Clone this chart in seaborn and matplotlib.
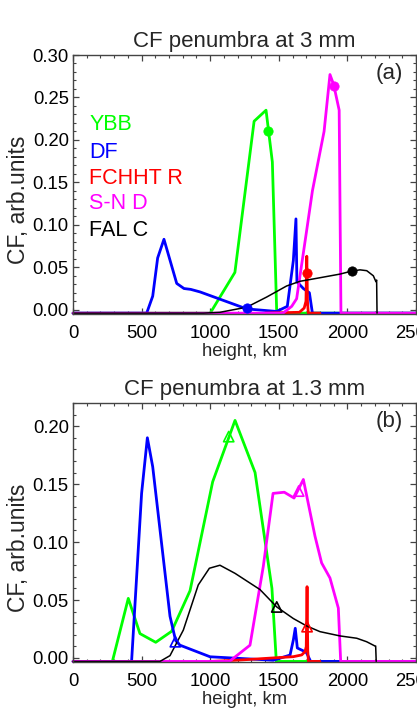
import matplotlib
matplotlib.use("Agg")
import matplotlib.pyplot as plt
import seaborn as sns
import pandas as pd
from matplotlib.ticker import MultipleLocator

# ---------------- data ----------------
series_names = ["YBB", "DF", "FCHHT R", "S-N D", "FAL C"]
series_colors = ["#00ff00", "#0000ff", "#ff0000", "#ff00ff", "#000000"]

# panel (a): CF at 3 mm
ybb_a_x = [0, 1000, 1180, 1320, 1407, 1453, 1485, 2500]
ybb_a_y = [-0.004, -0.004, 0.044, 0.222, 0.235, 0.174, -0.004, -0.004]
df_a_x = [0, 537, 581, 617, 663, 756, 809, 858, 926, 1266, 1484, 1562, 1606, 1625, 1632, 1679, 1723, 1745, 2500]
df_a_y = [-0.004, -0.004, 0.016, 0.061, 0.083, 0.031, 0.025, 0.024, 0.021, 0.001, -0.002, 0.004, 0.058, 0.107, 0.033, 0.025, 0.020, -0.004, -0.004]
fchht_a_x = [1400, 1650, 1685, 1698, 1704, 1709, 1715, 1800]
fchht_a_y = [-0.004, -0.003, 0.002, 0.010, 0.063, 0.010, -0.004, -0.004]
snd_a_x = [0, 1530, 1594, 1630, 1700, 1745, 1830, 1873, 1900, 1940, 1953, 2500]
snd_a_y = [-0.004, -0.004, 0.004, 0.013, 0.090, 0.140, 0.210, 0.277, 0.265, 0.235, -0.004, -0.004]
falc_a_x = [0, 950, 1071, 1266, 1412, 1557, 1654, 1776, 1946, 2031, 2092, 2141, 2189, 2208, 2213, 2216]
falc_a_y = [-0.004, -0.004, -0.003, 0.003, 0.015, 0.028, 0.0335, 0.037, 0.042, 0.0455, 0.047, 0.046, 0.040, 0.033, 0.035, -0.004]
mark_a_x = [1424, 1266, 1706, 1900, 2031]
mark_a_y = [0.2105, 0.0017, 0.043, 0.264, 0.0457]

# panel (b): CF at 1.3 mm
ybb_b_x = [0, 287, 403, 488, 603, 719, 853, 1018, 1181, 1327, 1450, 1482, 2500]
ybb_b_y = [-0.003, -0.003, 0.0514, 0.021, 0.0135, 0.023, 0.058, 0.152, 0.205, 0.160, 0.060, -0.003, -0.003]
df_b_x = [0, 427, 500, 542, 581, 707, 748, 780, 999, 1460, 1582, 1606, 1620, 1635, 1691, 1700, 1732, 2500]
df_b_y = [-0.003, -0.003, 0.142, 0.190, 0.165, 0.036, 0.015, 0.011, 0.001, -0.002, 0.0025, 0.0155, 0.0256, 0.0086, 0.0054, 0.005, -0.003, -0.003]
fchht_b_x = [1000, 1217, 1458, 1606, 1667, 1691, 1700, 1706, 1711, 1716, 1800]
fchht_b_y = [-0.003, -0.0018, 0.000, 0.0011, 0.0026, 0.0054, 0.0097, 0.0615, 0.006, -0.003, -0.003]
snd_b_x = [0, 1140, 1290, 1387, 1458, 1540, 1611, 1679, 1764, 1812, 1873, 1934, 1951, 2500]
snd_b_y = [-0.003, -0.003, 0.011, 0.079, 0.142, 0.143, 0.138, 0.154, 0.105, 0.082, 0.069, 0.043, -0.003, -0.003]
falc_b_x = [0, 634, 707, 804, 913, 994, 1071, 1181, 1363, 1485, 1606, 1703, 1800, 1946, 2068, 2140, 2201, 2206, 2210]
falc_b_y = [-0.003, -0.003, 0.002, 0.024, 0.063, 0.0774, 0.080, 0.073, 0.059, 0.044, 0.034, 0.0276, 0.0227, 0.019, 0.017, 0.014, 0.0103, 0.0103, -0.003]
mark_b_x = [1135, 746, 1706, 1645, 1485]
mark_b_y = [0.191, 0.014, 0.027, 0.144, 0.044]

x_ticks = [0, 500, 1000, 1500, 2000, 2500]
x_tick_labels = ["0", "500", "1000", "1500", "2000", "2500"]

# ---------------- styling ----------------
sns.set_style("ticks")
plt.rcParams["font.family"] = ["Liberation Sans", "DejaVu Sans"]

fig = plt.figure(figsize=(4.17, 7.21), dpi=100)
W, H = 417.0, 721.0
ax_a = fig.add_axes([73 / W, 1 - 314 / H, 343 / W, 259 / H])
ax_b = fig.add_axes([73 / W, 1 - 662 / H, 343 / W, 259 / H])

draw_order = [0, 1, 3, 2, 4]
lw = [2.0, 2.0, 2.0, 2.0, 1.1]


def panel(ax, xs, ys, mx, my, marker, title, ylim, yticks, tag):
    for i in draw_order:
        df = pd.DataFrame({"x": xs[i], "y": ys[i]})
        sns.lineplot(data=df, x="x", y="y", ax=ax, sort=False, estimator=None,
                     color=series_colors[i], lw=lw[i], clip_on=False, zorder=2 + i * 0.1)
    for i in range(5):
        if marker == "o":
            sns.scatterplot(x=[mx[i]], y=[my[i]], ax=ax, color=series_colors[i],
                            marker="o", s=45, edgecolor=series_colors[i], zorder=5)
        else:
            sns.scatterplot(x=[mx[i]], y=[my[i]], ax=ax, marker="^", s=55,
                            facecolor="none", edgecolor=series_colors[i],
                            linewidth=1.2, zorder=5)
    ax.set_xlim(0, 2500)
    ax.set_ylim(*ylim)
    ax.set_xticks(x_ticks)
    ax.set_xticklabels(x_tick_labels)
    ax.set_yticks(yticks)
    ax.set_yticklabels([f"{v:.2f}" for v in yticks])
    ax.xaxis.set_minor_locator(MultipleLocator(100))
    ax.yaxis.set_minor_locator(MultipleLocator(0.01))
    ax.tick_params(which="both", direction="in", top=True, right=True,
                   color="#444444", labelsize=13.3, labelcolor="black")
    ax.tick_params(which="major", length=4.5, width=0.9)
    ax.tick_params(which="minor", length=2.5, width=0.8)
    ax.tick_params(axis="x", pad=8)
    ax.tick_params(axis="y", pad=3)
    for sp in ax.spines.values():
        sp.set_color("#444444")
        sp.set_linewidth(1.0)
    ax.set_xlabel("height, km", fontsize=13.3, labelpad=1)
    ax.set_ylabel("CF, arb.units", fontsize=16.5)
    ax.yaxis.set_label_coords(-0.125, 0.44)
    ax.set_title(title, fontsize=16, pad=6)
    ax.text(0.962, 0.93, tag, transform=ax.transAxes, ha="right", va="center", fontsize=16)


panel(ax_a,
      [ybb_a_x, df_a_x, fchht_a_x, snd_a_x, falc_a_x],
      [ybb_a_y, df_a_y, fchht_a_y, snd_a_y, falc_a_y],
      mark_a_x, mark_a_y, "o", "CF penumbra at 3 mm", (-0.005, 0.30),
      [0.00, 0.05, 0.10, 0.15, 0.20, 0.25, 0.30], "(a)")
panel(ax_b,
      [ybb_b_x, df_b_x, fchht_b_x, snd_b_x, falc_b_x],
      [ybb_b_y, df_b_y, fchht_b_y, snd_b_y, falc_b_y],
      mark_b_x, mark_b_y, "^", "CF penumbra at 1.3 mm", (-0.0035, 0.22),
      [0.00, 0.05, 0.10, 0.15, 0.20], "(b)")

# legend as coloured text in panel (a)
leg_y = [0.730, 0.625, 0.525, 0.425, 0.324]
for name, col, yy in zip(series_names, series_colors, leg_y):
    ax_a.text(0.047, yy, name, color=col, transform=ax_a.transAxes,
              ha="left", va="center", fontsize=15.5)

fig.savefig("out.png", dpi=100)
